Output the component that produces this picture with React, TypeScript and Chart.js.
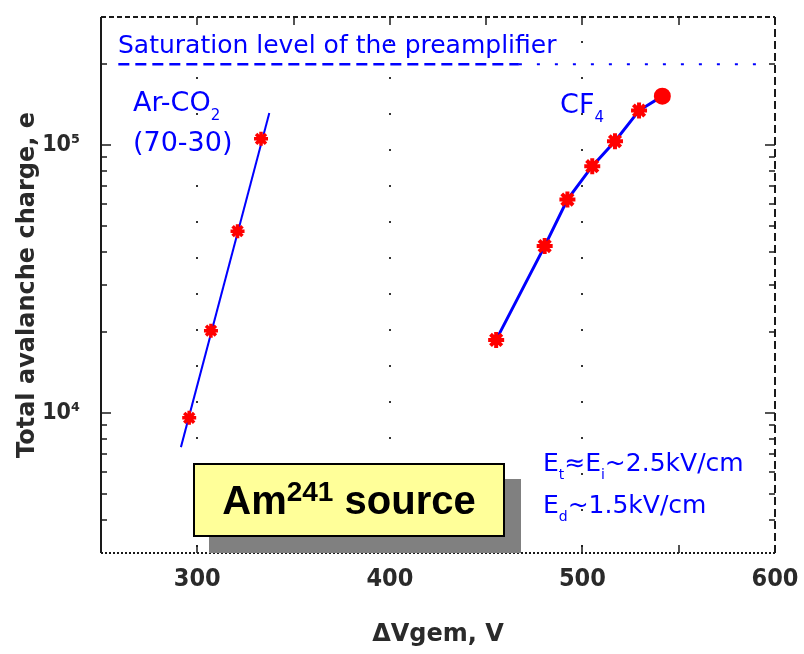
import { useEffect, useRef } from "react";
import { Chart, registerables } from "chart.js";

Chart.register(...registerables);

// Axis ranges and ticks
const voltageRange = [250, 600];
const chargeRange = [3000, 300000];
const xLabelValues = [300, 400, 500, 600];
const xTickMarkValues = [300, 350, 400, 450, 500, 550];
const gridVoltages = [300, 400, 500];
const yTickValues = [
  3000, 4000, 5000, 6000, 7000, 8000, 9000,
  10000, 20000, 30000, 40000, 50000, 60000, 70000, 80000, 90000,
  100000, 200000, 300000,
];
const yDecadeLabels: Record<number, string> = { 10000: "10⁴", 100000: "10⁵" };

// Ar-CO2 (70-30) measurements and straight-line fit
const arco2Voltage = [295.8, 307.1, 320.9, 333.1];
const arco2Charge = [9580, 20270, 47650, 105300];
const arco2FitVoltage = [291.5, 337.4];
const arco2FitCharge = [7450, 131500];

// CF4 measurements
const cf4Voltage = [455.2, 480.4, 492.2, 505.1, 516.9, 529.4, 541.5];
const cf4Charge = [18720, 41900, 62500, 83270, 103200, 134300, 152000];
const cf4Markers = ["star", "star", "star", "star", "star", "star", "circle"];

// Preamplifier saturation level
const saturationCharge = 200000;
const saturationDashedVoltage = [259, 467];
const saturationSparseVoltage = [467, 596];

const BLUE = "#0000ff";
const RED = "#ff0000";
const INK = "#1a1a1a";
const GREY_INK = "#2a2a2a";
const FONT = "'DejaVu Sans', sans-serif";
const NARROW = "'Liberation Sans Narrow', 'DejaVu Sans Condensed', sans-serif";

const pts = (xs: number[], ys: number[]) => xs.map((x, i) => ({ x, y: ys[i] }));

type Part = [string, "n" | "sub"];

function drawRich(ctx: CanvasRenderingContext2D, parts: Part[], x: number, y: number, size: number, subSize: number) {
  let cx = x;
  for (const [text, kind] of parts) {
    ctx.font = `${kind === "sub" ? subSize : size}px ${FONT}`;
    ctx.fillText(text, cx, kind === "sub" ? y + size * 0.33 : y);
    cx += ctx.measureText(text).width;
  }
}

const framePlugin = {
  id: "gemFrame",
  beforeDatasetsDraw(chart: any) {
    const { ctx, chartArea, scales } = chart;
    const { top, bottom } = chartArea;
    ctx.save();
    ctx.fillStyle = "#333";
    for (const v of gridVoltages) {
      const px = Math.round(scales.x.getPixelForValue(v));
      for (let py = top + 24; py < bottom - 4; py += 36) ctx.fillRect(px - 1, py, 2, 2);
    }
    ctx.restore();
  },
  afterDatasetsDraw(chart: any) {
    const { ctx, chartArea, scales } = chart;
    const { left, right, top, bottom } = chartArea;
    ctx.save();
    ctx.strokeStyle = INK;
    ctx.lineWidth = 2;

    const line = (x1: number, y1: number, x2: number, y2: number, dash: number[]) => {
      ctx.setLineDash(dash);
      ctx.beginPath();
      ctx.moveTo(x1, y1);
      ctx.lineTo(x2, y2);
      ctx.stroke();
    };
    line(left, top, left, bottom, []);
    line(left, top, right, top, [5, 3]);
    line(right, top, right, bottom, [8, 4]);
    line(left, bottom, right, bottom, [2, 2]);

    ctx.setLineDash([]);
    ctx.lineWidth = 1.5;
    for (const v of yTickValues) {
      const py = Math.round(scales.y.getPixelForValue(v));
      if (py <= top + 1 || py >= bottom - 1) continue;
      const len = yDecadeLabels[v] ? 10 : 6;
      line(left, py, left + len, py, []);
      line(right, py, right - len, py, []);
    }
    for (const v of xTickMarkValues) {
      const px = Math.round(scales.x.getPixelForValue(v));
      line(px, top, px, top + 8, []);
      line(px, bottom, px, bottom - 8, []);
    }
    ctx.restore();
  },
  afterDraw(chart: any) {
    const { ctx, scales } = chart;
    const X = (v: number) => scales.x.getPixelForValue(v);
    const Y = (v: number) => scales.y.getPixelForValue(v);
    ctx.save();
    ctx.fillStyle = BLUE;
    ctx.textBaseline = "alphabetic";
    ctx.textAlign = "left";

    drawRich(ctx, [["Saturation level of the preamplifier", "n"]], X(258.8), Y(saturationCharge) - 11, 25, 16);

    drawRich(ctx, [["Ar-CO", "n"], ["2", "sub"]], X(266.6), Y(134000), 27, 15);
    drawRich(ctx, [["(70-30)", "n"]], X(266.6), Y(95000), 27, 15);
    drawRich(ctx, [["CF", "n"], ["4", "sub"]], X(488.4), Y(131600), 27, 15);

    drawRich(ctx, [["E", "n"], ["t", "sub"], ["≈E", "n"], ["i", "sub"], ["~2.5kV/cm", "n"]], X(479.5), Y(9900) + 57, 25, 14);
    drawRich(ctx, [["E", "n"], ["d", "sub"], ["~1.5kV/cm", "n"]], X(479.5), Y(9900) + 99, 25, 14);
    ctx.restore();
  },
};

export default function App() {
  const canvasRef = useRef<HTMLCanvasElement | null>(null);

  useEffect(() => {
    const canvas = canvasRef.current;
    if (!canvas) return;
    const chart = new Chart(canvas, {
      type: "scatter",
      data: {
        datasets: [
          {
            label: "Ar-CO2 (70-30)",
            data: pts(arco2Voltage, arco2Charge),
            pointStyle: "star",
            pointRadius: 7,
            borderColor: RED,
            backgroundColor: RED,
            pointBorderWidth: 3.5,
            showLine: false,
            order: 0,
          },
          {
            label: "CF4",
            data: pts(cf4Voltage, cf4Charge),
            pointStyle: cf4Markers as any,
            pointRadius: [8, 8, 8, 8, 8, 8, 6.5],
            borderColor: RED,
            backgroundColor: RED,
            pointBorderWidth: 4,
            showLine: false,
            order: 0,
          },
          {
            label: "Ar-CO2 fit",
            data: pts(arco2FitVoltage, arco2FitCharge),
            showLine: true,
            borderColor: BLUE,
            borderWidth: 2,
            pointRadius: 0,
            order: 1,
          },
          {
            label: "CF4 curve",
            data: pts(cf4Voltage, cf4Charge),
            showLine: true,
            borderColor: BLUE,
            borderWidth: 3,
            pointRadius: 0,
            order: 1,
          },
          {
            label: "Saturation",
            data: pts(saturationDashedVoltage, [saturationCharge, saturationCharge]),
            showLine: true,
            borderColor: BLUE,
            borderWidth: 2.5,
            borderDash: [11, 6],
            pointRadius: 0,
            order: 1,
          },
          {
            label: "Saturation (cont.)",
            data: pts(saturationSparseVoltage, [saturationCharge, saturationCharge]),
            showLine: true,
            borderColor: BLUE,
            borderWidth: 2,
            borderDash: [3, 15],
            pointRadius: 0,
            order: 1,
          },
        ],
      },
      options: {
        responsive: false,
        animation: false,
        devicePixelRatio: 1,
        layout: { padding: { top: 17, right: 29, bottom: 0, left: 0 } },
        plugins: { legend: { display: false }, tooltip: { enabled: false } },
        scales: {
          x: {
            type: "linear",
            min: voltageRange[0],
            max: voltageRange[1],
            afterBuildTicks: (scale: any) => {
              scale.ticks = xLabelValues.map((value) => ({ value }));
            },
            afterFit: (scale: any) => {
              scale.height = 101;
              scale.paddingLeft = 0;
              scale.paddingRight = 0;
            },
            grid: { display: false, drawTicks: false },
            border: { display: false },
            ticks: {
              autoSkip: false,
              maxRotation: 0,
              padding: 11,
              color: GREY_INK,
              font: { family: NARROW, size: 25, weight: "bold" },
              callback: (v: any) => String(v),
            },
            title: {
              display: true,
              text: "ΔVgem, V",
              color: GREY_INK,
              font: { family: FONT, size: 24, weight: "bold" },
              padding: { top: 0, bottom: 5 },
            },
          },
          y: {
            type: "logarithmic",
            min: chargeRange[0],
            max: chargeRange[1],
            afterBuildTicks: (scale: any) => {
              scale.ticks = yTickValues.map((value) => ({ value }));
            },
            afterFit: (scale: any) => {
              scale.width = 101;
              scale.paddingTop = 0;
              scale.paddingBottom = 0;
            },
            grid: { display: false, drawTicks: false },
            border: { display: false },
            ticks: {
              autoSkip: false,
              padding: 21,
              color: GREY_INK,
              font: { family: NARROW, size: 23, weight: "bold" },
              callback: (v: any) => yDecadeLabels[Number(v)] ?? "",
            },
            title: {
              display: true,
              text: "Total avalanche charge, e",
              color: GREY_INK,
              font: { family: FONT, size: 24, weight: "bold" },
              padding: { top: 13, bottom: 0 },
            },
          },
        },
      },
      plugins: [framePlugin],
    });
    return () => chart.destroy();
  }, []);

  return (
    <div style={{ position: "absolute", left: 0, top: 0, width: 804, height: 654, background: "#fff" }}>
      <canvas ref={canvasRef} width={804} height={654} style={{ width: 804, height: 654, display: "block" }} />
      <div
        style={{
          position: "absolute",
          left: 193,
          top: 463,
          width: 312,
          height: 74,
          boxSizing: "border-box",
          border: "2px solid #000",
          background: "#ffff99",
          boxShadow: "16px 16px 0 #808080",
          display: "flex",
          alignItems: "center",
          justifyContent: "center",
          fontFamily: "'Liberation Sans', Arial, sans-serif",
          fontWeight: "bold",
          fontSize: 40,
          color: "#000",
          lineHeight: "40px",
          whiteSpace: "nowrap",
        }}
      >
        <span style={{ position: "relative", top: 2 }}>
          Am<span style={{ fontSize: 28, position: "relative", top: -13 }}>241</span> source
        </span>
      </div>
    </div>
  );
}
